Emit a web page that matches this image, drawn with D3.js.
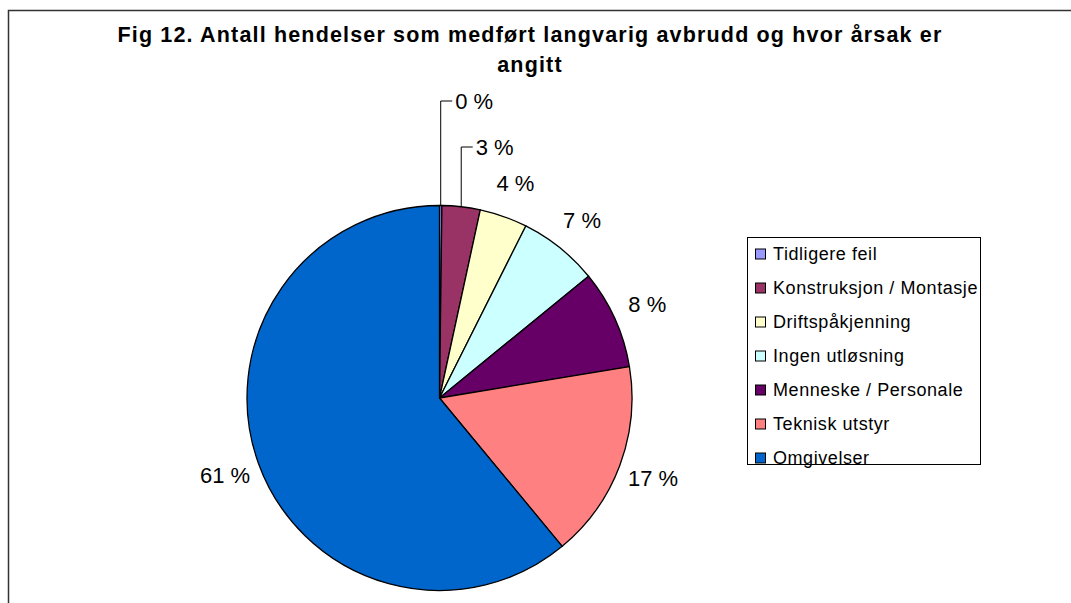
<!DOCTYPE html>
<html>
<head>
<meta charset="utf-8">
<script src="https://cdn.jsdelivr.net/npm/d3@7"></script>
<style>
  body { margin: 0; background: #fff; }
  text { font-family: "Liberation Sans", Arial, sans-serif; fill: #000; }
</style>
</head>
<body>
<script>
// chart data
const categories = ["Tidligere feil", "Konstruksjon / Montasje", "Driftspåkjenning",
                    "Ingen utløsning", "Menneske / Personale", "Teknisk utstyr", "Omgivelser"];
const shares = [0.2, 3.2, 4.0, 6.7, 8.3, 16.6, 61.0];
const colors = ["#9999FF", "#993366", "#FFFFCC", "#CCFFFF", "#660066", "#FF8080", "#0066CC"];
const titleLines = ["Fig 12. Antall hendelser som medført langvarig avbrudd og hvor årsak er", "angitt"];

const width = 1071;
const height = 603;
const cx = 439.5, cy = 398, radius = 192.5;

const svg = d3.select("body")
    .append("svg")
    .attr("width", width)
    .attr("height", height);

// chart area border (cropped at right/bottom)
svg.append("path")
    .attr("d", `M8.5,${height} V10.5 H${width}`)
    .attr("fill", "none")
    .attr("stroke", "#333")
    .attr("stroke-width", 1.5);

// title
const title = svg.selectAll("text.title")
    .data(titleLines)
    .join("text")
    .attr("class", "title")
    .attr("x", 530)
    .attr("y", (d, i) => 42 + i * 30)
    .attr("text-anchor", "middle")
    .attr("font-size", 21.5)
    .attr("font-weight", "bold")
    .text(d => d);
// excel spreads the title a bit wider
const tls = (825 - title.node().getComputedTextLength()) / titleLines[0].length;
title.attr("letter-spacing", tls);

// pie
const pie = d3.pie().sort(null).value(d => d)(shares);
const arc = d3.arc().innerRadius(0).outerRadius(radius);

const g = svg.append("g").attr("transform", `translate(${cx},${cy})`);

g.selectAll("path")
    .data(pie)
    .join("path")
    .attr("d", arc)
    .attr("fill", (d, i) => colors[i])
    .attr("stroke", "#000")
    .attr("stroke-width", 1.3)
    .attr("stroke-linejoin", "round");

// labels
const labelR = 228;
// small slices get lifted labels with a leader line (height above centre)
const lifted = {0: 297, 1: 251};
const total = d3.sum(shares);

pie.forEach((d, i) => {
    const a = (d.startAngle + d.endAngle) / 2;
    const txt = Math.round(d.value / total * 100) + " %";
    if (lifted[i] !== undefined) {
        const x0 = radius * Math.sin(a);
        const y0 = -radius * Math.cos(a);
        const y1 = -lifted[i];
        g.append("path")
            .attr("d", `M${x0},${y0} V${y1} H${x0 + 11.5}`)
            .attr("fill", "none")
            .attr("stroke", "#000")
            .attr("stroke-width", 1);
        g.append("text")
            .attr("x", x0 + 14.5)
            .attr("y", y1)
            .attr("dy", "0.36em")
            .attr("font-size", 22)
            .text(txt);
    } else {
        g.append("text")
            .attr("x", labelR * Math.sin(a))
            .attr("y", -labelR * Math.cos(a))
            .attr("dy", "0.36em")
            .attr("text-anchor", "middle")
            .attr("font-size", 22)
            .text(txt);
    }
});

// legend
const legend = svg.append("g").attr("transform", "translate(747.5,237.5)");
legend.append("rect")
    .attr("width", 233)
    .attr("height", 227)
    .attr("fill", "#fff")
    .attr("stroke", "#000")
    .attr("stroke-width", 1);

const item = legend.selectAll("g.item")
    .data(categories)
    .join("g")
    .attr("class", "item")
    .attr("transform", (d, i) => `translate(0,${16 + i * 34})`);

item.append("rect")
    .attr("x", 8).attr("y", -4.5)
    .attr("width", 10).attr("height", 10)
    .attr("fill", (d, i) => colors[i])
    .attr("stroke", "#000")
    .attr("stroke-width", 1);

const lt = item.append("text")
    .attr("x", 25.5)
    .attr("dy", "0.36em")
    .attr("font-size", 18)
    .text(d => d);
// match width of the longest entry
const node = lt.nodes()[1];
const lls = (205 - node.getComputedTextLength()) / categories[1].length;
lt.attr("letter-spacing", lls);
</script>
</body>
</html>
